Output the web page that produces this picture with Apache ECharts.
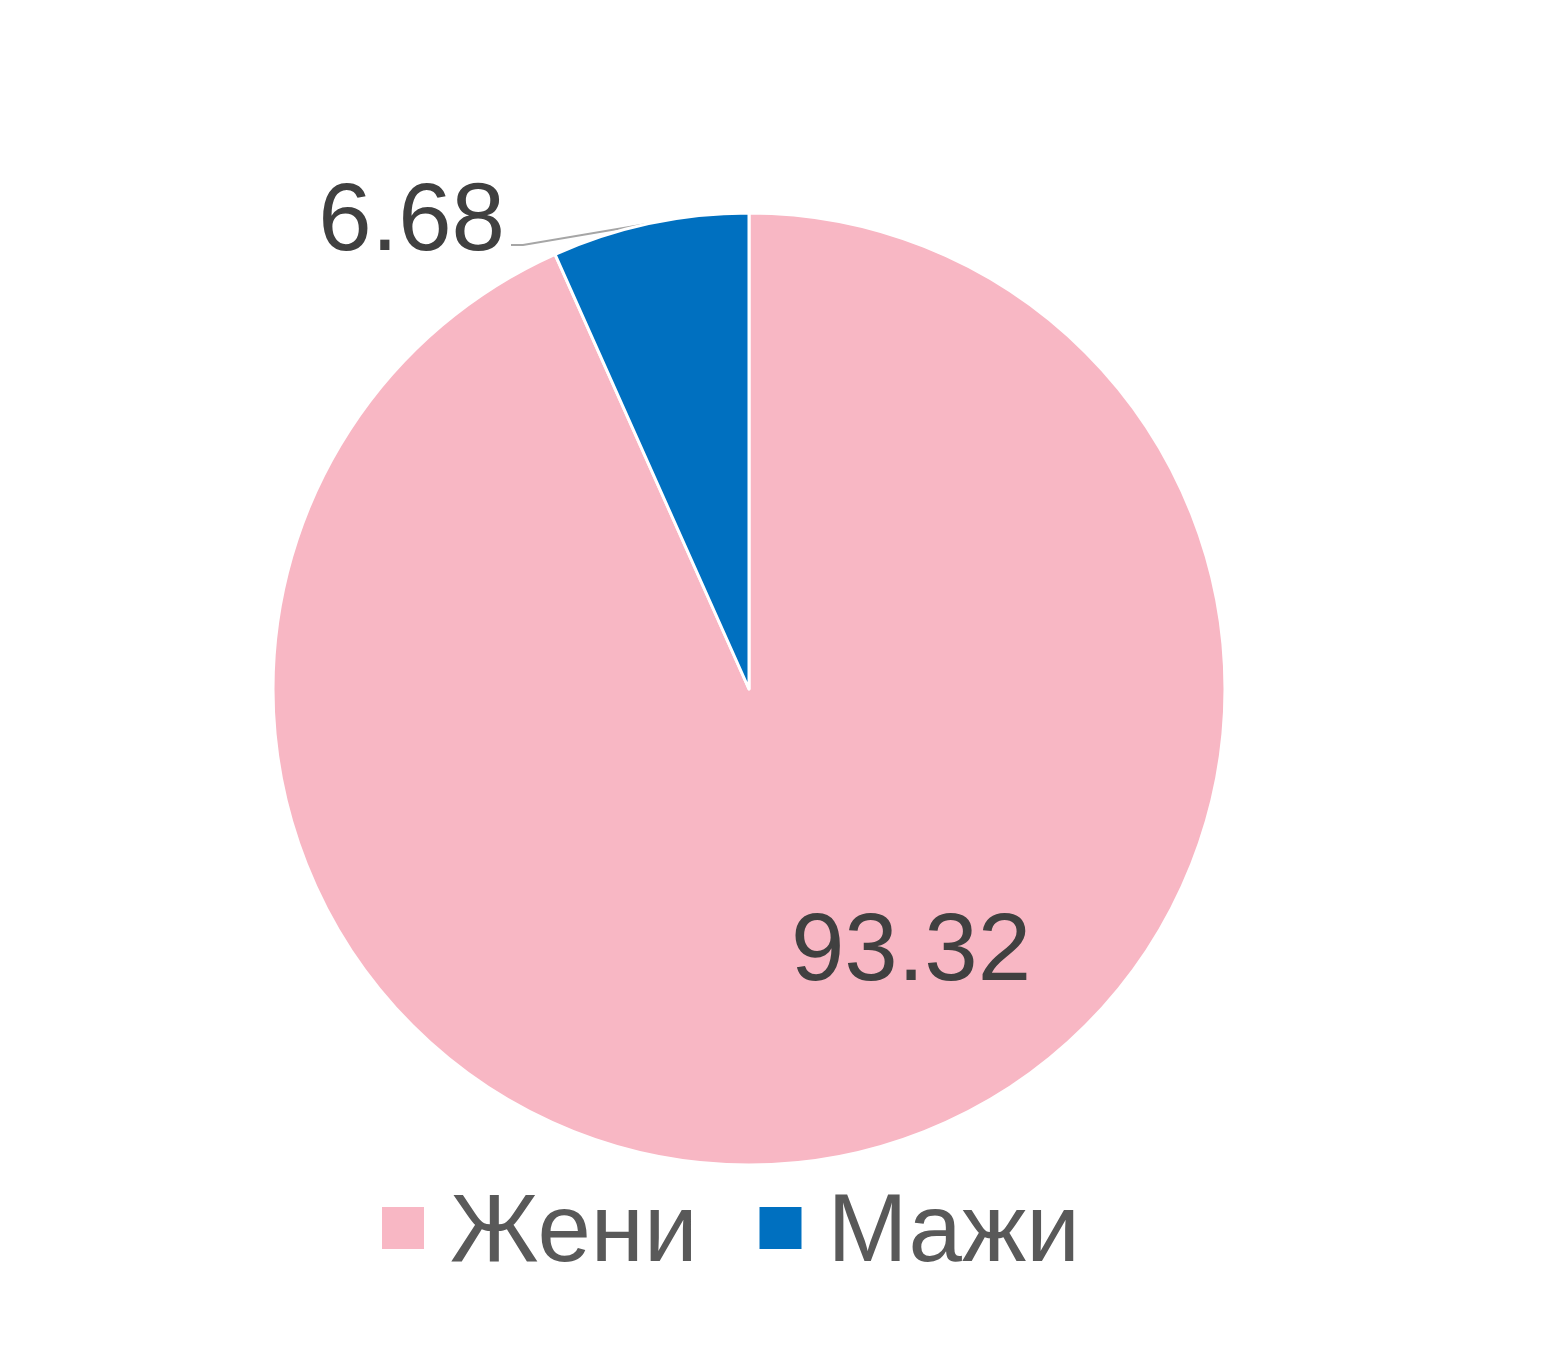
<!DOCTYPE html>
<html>
<head>
<meta charset="utf-8">
<script src="https://cdn.jsdelivr.net/npm/echarts@6/dist/echarts.min.js"></script>
<style>
html,body{margin:0;padding:0;background:#fff;}
#chart{width:1557px;height:1351px;}
</style>
</head>
<body>
<div id="chart"></div>
<script>
const categories = ['Жени', 'Мажи'];
const values = [93.32, 6.68];
const colors = ['#F8B7C4', '#0070C0'];

const chart = echarts.init(document.getElementById('chart'), null, {renderer: 'canvas'});
const font = '"Liberation Sans", Arial, sans-serif';

chart.setOption({
  backgroundColor: '#ffffff',
  animation: false,
  legend: {
    data: categories,
    left: 375,
    top: 1182,
    itemWidth: 44,
    itemHeight: 44,
    itemGap: 60,
    icon: 'rect',
    formatter: '{t|{name}}',
    textStyle: {
      fontFamily: font,
      fontSize: 96,
      color: '#595959',
      rich: {
        t: {
          fontFamily: font,
          fontSize: 96,
          color: '#595959',
          padding: [14, 0, 0, 20]
        }
      }
    }
  },
  series: [{
    type: 'pie',
    center: [749, 689],
    radius: ['0%', 476],
    startAngle: 90,
    clockwise: true,
    silent: true,
    itemStyle: {borderColor: '#ffffff', borderWidth: 3},
    label: {
      show: true,
      formatter: function (p) { return p.value.toFixed(2); },
      fontFamily: font,
      fontSize: 96,
      color: '#404040'
    },
    labelLine: {
      show: true,
      length2: 12,
      lineStyle: {color: '#A6A6A6', width: 2}
    },
    labelLayout: function (params) {
      if (params.dataIndex === 0) {
        return {x: 911, y: 954, align: 'center', verticalAlign: 'middle'};
      }
      return {x: 511, y: 176, align: 'right', verticalAlign: 'top'};
    },
    data: categories.map(function (c, i) {
      return {
        name: c,
        value: values[i],
        itemStyle: {color: colors[i]},
        label: i === 0 ? {position: 'inside'} : {
          position: 'outside',
          backgroundColor: 'rgba(255,255,255,0)',
          padding: [0, 6, 42, 0]
        },
        labelLine: {show: i === 1}
      };
    })
  }]
});
</script>
</body>
</html>
